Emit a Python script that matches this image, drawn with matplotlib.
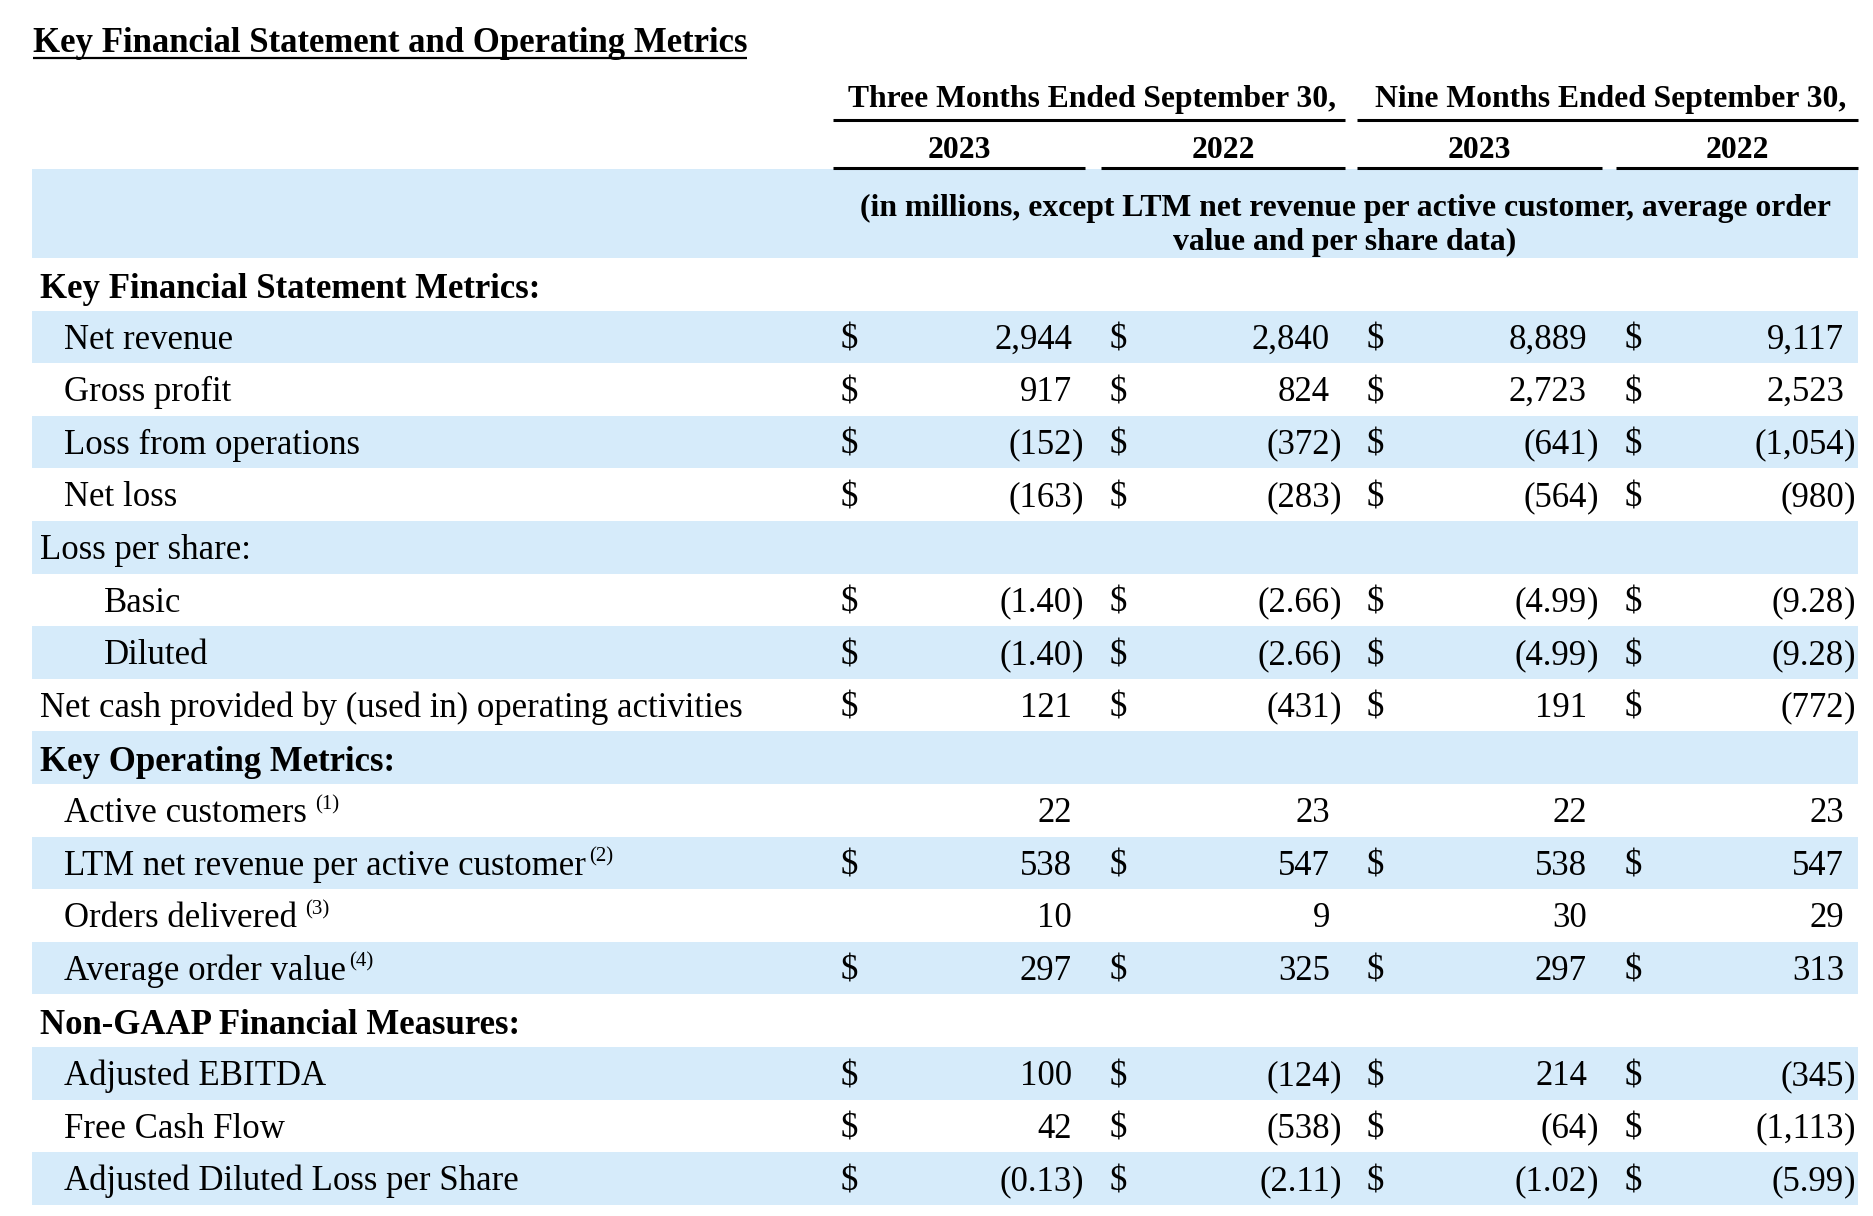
import matplotlib.pyplot as plt
from matplotlib.patches import Rectangle

plt.rcParams['font.family'] = ['Liberation Serif', 'DejaVu Serif']

title = 'Key Financial Statement and Operating Metrics'
period_heads = ['Three Months Ended September 30,', 'Nine Months Ended September 30,']
years = ['2023', '2022', '2023', '2022']
unit_note = ['(in millions, except LTM net revenue per active customer, average order',
             'value and per share data)']

row_labels = ['Key Financial Statement Metrics:', 'Net revenue', 'Gross profit',
              'Loss from operations', 'Net loss', 'Loss per share:', 'Basic', 'Diluted',
              'Net cash provided by (used in) operating activities',
              'Key Operating Metrics:', 'Active customers', 'LTM net revenue per active customer',
              'Orders delivered', 'Average order value', 'Non-GAAP Financial Measures:',
              'Adjusted EBITDA', 'Free Cash Flow', 'Adjusted Diluted Loss per Share']
row_notes = ['', '', '', '', '', '', '', '', '', '', '(1)', '(2)', '(3)', '(4)', '', '', '', '']
# 0 = section/top level, 1 = item, 2 = sub item
row_level = [0, 1, 1, 1, 1, 0, 2, 2, 0, 0, 1, 1, 1, 1, 0, 1, 1, 1]
row_bold = [True, False, False, False, False, False, False, False, False,
            True, False, False, False, False, True, False, False, False]
has_dollar = [False, True, True, True, True, False, True, True, True,
              False, False, True, False, True, False, True, True, True]
decimals = [0, 0, 0, 0, 0, 0, 2, 2, 0, 0, 0, 0, 0, 0, 0, 0, 0, 2]

q3_2023 = [None, 2944, 917, -152, -163, None, -1.40, -1.40, 121,
           None, 22, 538, 10, 297, None, 100, 42, -0.13]
q3_2022 = [None, 2840, 824, -372, -283, None, -2.66, -2.66, -431,
           None, 23, 547, 9, 325, None, -124, -538, -2.11]
ytd_2023 = [None, 8889, 2723, -641, -564, None, -4.99, -4.99, 191,
            None, 22, 538, 30, 297, None, 214, -64, -1.02]
ytd_2022 = [None, 9117, 2523, -1054, -980, None, -9.28, -9.28, -772,
            None, 23, 547, 29, 313, None, -345, -1113, -5.99]
columns = [q3_2023, q3_2022, ytd_2023, ytd_2022]

BLUE = '#d6ebfa'
FS = 25
HFS = 22.8   # column headings are set a little smaller
W, H = 1874, 1216

fig = plt.figure(figsize=(W / 100, H / 100), dpi=100)
ax = fig.add_axes([0, 0, 1, 1])
ax.set_xlim(0, W)
ax.set_ylim(H, 0)
ax.axis('off')
rend = fig.canvas.get_renderer()


def text_width(t):
    bb = t.get_window_extent(renderer=rend)
    return bb.width


# title with underline
t = ax.text(33, 52, title, fontsize=FS, weight='bold', va='baseline', ha='left')
ax.plot([33, 33 + text_width(t)], [58, 58], color='black', lw=1.6, solid_capstyle='butt')

# period headings
head_spans = [(833, 1345), (1357, 1858)]
for lab, (x0, x1) in zip(period_heads, head_spans):
    ax.text((x0 + x1) / 2 + 3, 107, lab, fontsize=HFS, weight='bold', ha='center', va='baseline')
    ax.plot([x0, x1], [120, 120], color='black', lw=2.2, solid_capstyle='butt')

year_spans = [(833, 1085), (1101, 1345), (1357, 1602), (1616, 1858)]
for lab, (x0, x1) in zip(years, year_spans):
    ax.text((x0 + x1) / 2, 158, lab, fontsize=HFS, weight='bold', ha='center', va='baseline')
    ax.plot([x0, x1], [168, 168], color='black', lw=2.2, solid_capstyle='butt')

# unit note band
ax.add_patch(Rectangle((32, 169), 1826, 89, color=BLUE, lw=0, zorder=0))
ax.text(1345, 216, unit_note[0], fontsize=HFS, weight='bold', ha='center', va='baseline')
ax.text(1345, 250, unit_note[1], fontsize=HFS, weight='bold', ha='center', va='baseline')

# rows
top0 = 258
row_h = 52.6
label_x = [40, 64, 104]
dollar_x = [841, 1110, 1367, 1625]
num_right = [1072, 1330, 1587, 1844]

for i, lab in enumerate(row_labels):
    top = top0 + i * row_h
    if i % 2 == 1:
        ax.add_patch(Rectangle((32, top), 1826, row_h, color=BLUE, lw=0, zorder=0))
    base = top + 38 if not row_bold[i] else top + 40
    t = ax.text(label_x[row_level[i]], base, lab, fontsize=FS,
                weight='bold' if row_bold[i] else 'normal', ha='left', va='baseline')
    if row_notes[i]:
        gap = 8 if i in (10, 12) else 3
        ax.text(label_x[row_level[i]] + text_width(t) + gap, base - 13, row_notes[i],
                fontsize=15, ha='left', va='baseline')
    for c, vals in enumerate(columns):
        v = vals[i]
        if v is None:
            continue
        if has_dollar[i]:
            ax.text(dollar_x[c], base, '$', fontsize=FS, ha='left', va='baseline')
        s = f'{abs(v):,.{decimals[i]}f}'
        if v < 0:
            ax.text(num_right[c], base, '(' + s, fontsize=FS, ha='right', va='baseline')
            ax.text(num_right[c], base, ')', fontsize=FS, ha='left', va='baseline')
        else:
            ax.text(num_right[c], base, s, fontsize=FS, ha='right', va='baseline')

fig.savefig('out.png', dpi=100, facecolor='white')
